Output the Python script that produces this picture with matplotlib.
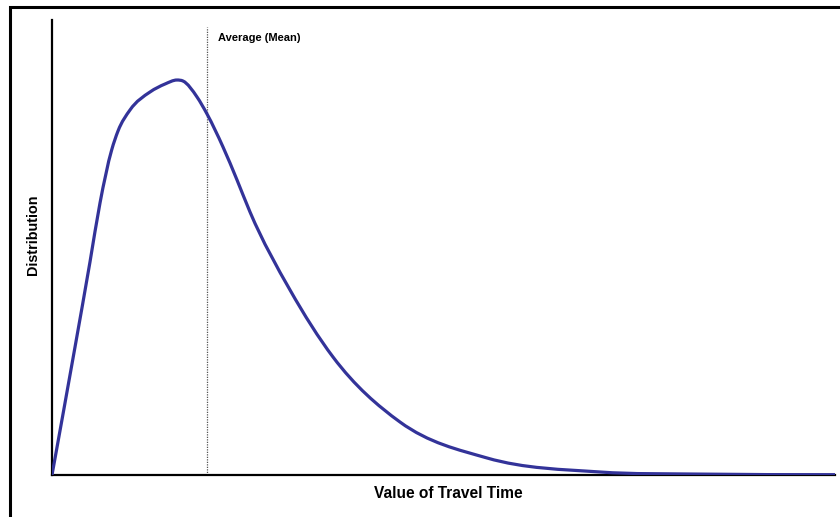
import matplotlib
matplotlib.use("Agg")
import matplotlib.pyplot as plt
import numpy as np
from matplotlib.patches import Rectangle, PathPatch
from matplotlib.path import Path

plt.rcParams['font.family'] = ['Liberation Sans', 'DejaVu Sans']

# Data
travel_time = [0, 2.94, 4.85, 6.13, 7.62, 8.43, 9.96, 12.52, 14.43, 15.96, 16.73,
               18.52, 19.80, 21.84, 23.63, 25.29, 30.40, 35.89, 44.44, 55.56,
               69.99, 82.76, 100.0]
distribution = [0, 28.13, 46.81, 59.78, 71.43, 75.60, 80.22, 84.18, 85.93, 86.81,
                86.59, 83.08, 79.34, 72.09, 64.84, 57.80, 40.66, 25.93, 11.65,
                3.74, 0.66, 0.20, 0.07]
mean_value = 19.8
mean_label = "Average (Mean)"
x_label = "Value of Travel Time"
y_label = "Distribution"

fig = plt.figure(figsize=(8.4, 5.17), dpi=100)
fig.patch.set_facecolor('white')

# outer frame (cut off at right and bottom)
fig.patches.append(Rectangle((10/840, -0.1), 1.2, (517-7)/517 + 0.1,
                             transform=fig.transFigure, fill=False,
                             edgecolor='black', linewidth=2.2))

ax = fig.add_axes([52/840, (517-475)/517, (835-52)/840, (475-20)/517])


def smooth_path(xs, ys):
    """Smoothed line drawn as cubic Bezier segments (Hermite tangents)."""
    x = np.asarray(xs, float)
    y = np.asarray(ys, float)
    h = np.diff(x)
    d = np.diff(y) / h
    m = np.empty_like(x)
    m[0], m[-1] = d[0], d[-1]
    m[1:-1] = (d[:-1] * h[1:] + d[1:] * h[:-1]) / (h[:-1] + h[1:])
    verts = [(x[0], y[0])]
    codes = [Path.MOVETO]
    for i in range(len(x) - 1):
        verts += [(x[i] + h[i] / 3, y[i] + m[i] * h[i] / 3),
                  (x[i + 1] - h[i] / 3, y[i + 1] - m[i + 1] * h[i] / 3),
                  (x[i + 1], y[i + 1])]
        codes += [Path.CURVE4] * 3
    return Path(verts, codes)


ax.add_patch(PathPatch(smooth_path(travel_time, distribution), facecolor='none',
                       edgecolor='#333399', linewidth=2.3, joinstyle='round',
                       capstyle='round', zorder=3))
ax.axvline(mean_value, ymin=0, ymax=(475-27)/455, color='#555555',
           linestyle=(0, (1, 1)), linewidth=0.9, zorder=2)
ax.text(mean_value + 1.4, (475-38)/455*100, mean_label, fontsize=8,
        fontweight='bold', ha='left', va='center')

ax.set_xlim(0, 100)
ax.set_ylim(0, 100)
ax.set_xticks([])
ax.set_yticks([])
for s in ['top', 'right']:
    ax.spines[s].set_visible(False)
for s in ['left', 'bottom']:
    ax.spines[s].set_linewidth(1.6)
    ax.spines[s].set_color('black')

fig.text((372+525)/2/840, 1 - 494/517, x_label, fontsize=11.2, fontweight='bold',
         ha='center', va='center')
fig.text(33/840, 1 - 235/517, y_label, fontsize=10.4, fontweight='bold',
         ha='center', va='center', rotation=90)

fig.savefig('out.png', dpi=100)
